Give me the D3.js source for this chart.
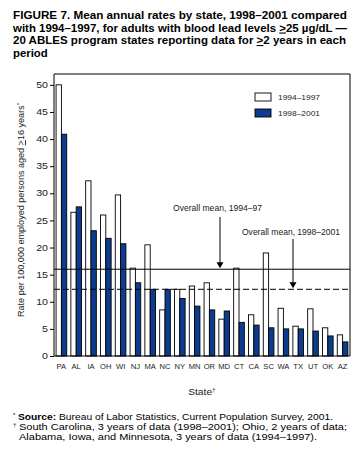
<!DOCTYPE html>
<html>
<head>
<meta charset="utf-8">
<script src="https://cdn.jsdelivr.net/npm/d3@7"></script>
<style>
body { margin: 0; background: #fff; }
text { font-family: "Liberation Sans", Arial, Helvetica, sans-serif; }
</style>
</head>
<body>
<script>
// data
var states = ["PA","AL","IA","OH","WI","NJ","MA","NC","NY","MN","OR","MD","CT","CA","SC","WA","TX","UT","OK","AZ"];
var rates9497 = [50.0,26.5,32.3,26.0,29.7,16.2,20.5,8.5,12.3,12.9,13.5,6.8,16.2,7.6,19.0,8.8,5.5,8.7,5.2,3.9];
var rates9801 = [40.9,27.5,23.1,21.7,20.7,13.5,12.3,12.3,10.6,9.2,8.5,8.3,6.2,5.7,5.2,5.0,5.0,4.6,3.7,2.6];
var periods = ["1994–1997","1998–2001"];
var yTicks = [0,5,10,15,20,25,30,35,40,45,50];
var mean9497 = 16.0;
var mean9801 = 12.3;

var W = 359, H = 455;
var blue = "#0c3c8f";
var svg = d3.select("body").append("svg").attr("width", W).attr("height", H);

// le texte de l'original est plus large qu'Arial : on etire
function etire(sel, k) {
    sel.each(function() {
        var w = this.getComputedTextLength();
        d3.select(this).attr("textLength", w * k).attr("lengthAdjust", "spacingAndGlyphs");
    });
    return sel;
}
function largeur(sel, w) {
    var k = w / sel.node().getComputedTextLength();
    sel.attr("textLength", w).attr("lengthAdjust", "spacingAndGlyphs");
    return k;
}

// titre
function ligneTitre(yy) {
    return svg.append("text").attr("x", 13).attr("y", yy).attr("font-size", 10.8).attr("font-weight", "bold").attr("fill", "#000");
}
var t1 = ligneTitre(19).text("FIGURE 7. Mean annual rates by state, 1998–2001 compared");
largeur(t1, 334);
var t2 = ligneTitre(31.5);
t2.append("tspan").text("with 1994–1997, for adults with blood lead levels ");
t2.append("tspan").attr("text-decoration", "underline").text(">");
t2.append("tspan").text("25 µg/dL —");
largeur(t2, 334);
var t3 = ligneTitre(44);
t3.append("tspan").text("20 ABLES program states reporting data for ");
t3.append("tspan").attr("text-decoration", "underline").text(">");
t3.append("tspan").text("2 years in each");
largeur(t3, 333);
var t4 = ligneTitre(56.5).text("period");
etire(t4, 1.05);

// echelles
var x0 = 54, x1 = 350, yTop = 74, yBase = 356;
var x = d3.scaleBand().domain(states).range([x0, x1]).paddingInner(0.28).paddingOuter(0.14);
var xs = d3.scaleBand().domain([0, 1]).range([0, x.bandwidth()]);
var y = d3.scaleLinear().domain([0, 52]).range([yBase, yTop]);

// cadre
svg.append("path").attr("d", "M" + x0 + "," + yTop + "H" + x1 + "V" + yBase)
    .attr("fill", "none").attr("stroke", "#000").attr("stroke-width", 1);

// barres
var g = svg.append("g");
g.selectAll("rect.a").data(states).enter().append("rect")
    .attr("x", function(d) { return x(d) + xs(0); })
    .attr("y", function(d, i) { return y(rates9497[i]); })
    .attr("width", xs.bandwidth())
    .attr("height", function(d, i) { return yBase - y(rates9497[i]); })
    .attr("fill", "#fff").attr("stroke", "#000").attr("stroke-width", 0.9);
g.selectAll("rect.b").data(states).enter().append("rect")
    .attr("x", function(d) { return x(d) + xs(1); })
    .attr("y", function(d, i) { return y(rates9801[i]); })
    .attr("width", xs.bandwidth())
    .attr("height", function(d, i) { return yBase - y(rates9801[i]); })
    .attr("fill", blue).attr("stroke", "#000").attr("stroke-width", 0.9);

// moyennes
svg.append("line").attr("x1", x0).attr("x2", x1).attr("y1", y(mean9497)).attr("y2", y(mean9497))
    .attr("stroke", "#000").attr("stroke-width", 1);
svg.append("line").attr("x1", x0).attr("x2", x1).attr("y1", y(mean9801)).attr("y2", y(mean9801))
    .attr("stroke", "#000").attr("stroke-width", 1).attr("stroke-dasharray", "6,3");

// axe y
var yAxis = d3.axisLeft(y).tickValues(yTicks).tickSize(4).tickPadding(2);
var ga = svg.append("g").attr("transform", "translate(" + x0 + ",0)").call(yAxis);
ga.select(".domain").attr("d", "M0," + yTop + "V" + yBase).attr("stroke", "#000");
ga.selectAll(".tick line").attr("stroke", "#000");
ga.selectAll(".tick text").attr("font-size", 8.2).attr("fill", "#222").attr("font-family", null);
etire(ga.selectAll(".tick text"), 1.3);

// axe x
var gx = svg.append("g").attr("transform", "translate(0," + yBase + ")").call(d3.axisBottom(x).tickSize(0).tickPadding(8));
gx.select(".domain").attr("d", "M" + x0 + ",0H" + x1).attr("stroke", "#000");
gx.selectAll(".tick text").attr("font-size", 7.6).attr("fill", "#222").attr("font-family", null);

// titres d'axes
var yl = svg.append("text").attr("transform", "translate(24,210) rotate(-90)").attr("text-anchor", "middle")
    .attr("font-size", 9).attr("fill", "#222");
yl.append("tspan").text("Rate per 100,000 employed persons aged ");
yl.append("tspan").attr("text-decoration", "underline").text(">");
yl.append("tspan").text("16 years");
yl.append("tspan").attr("font-size", 6).attr("dy", -3).text("*");
largeur(yl, 214);

var xl = svg.append("text").attr("x", 202).attr("y", 395).attr("text-anchor", "middle").attr("font-size", 9.3).attr("fill", "#222");
xl.append("tspan").text("State");
xl.append("tspan").attr("font-size", 6).attr("dy", -3.5).text("†");
etire(xl, 1.1);

// legende
var leg = svg.append("g");
leg.selectAll("rect").data(periods).enter().append("rect")
    .attr("x", 255).attr("y", function(d, i) { return 93 + i * 16; })
    .attr("width", 16).attr("height", 8)
    .attr("fill", function(d, i) { return i == 0 ? "#fff" : blue; })
    .attr("stroke", "#000").attr("stroke-width", 0.9);
var lt = leg.selectAll("text").data(periods).enter().append("text")
    .attr("x", 278).attr("y", function(d, i) { return 100 + i * 16; })
    .attr("font-size", 8).attr("fill", "#222").text(function(d) { return d; });
lt.attr("textLength", 42).attr("lengthAdjust", "spacingAndGlyphs");

// annotations avec fleches
function fleche(tx, ty, label, w, ax, ay0, ay1) {
    var t = svg.append("text").attr("x", tx).attr("y", ty).attr("font-size", 8.2).attr("fill", "#222").text(label);
    largeur(t, w);
    svg.append("line").attr("x1", ax).attr("x2", ax).attr("y1", ay0).attr("y2", ay1 - 6)
        .attr("stroke", "#000").attr("stroke-width", 1);
    svg.append("path").attr("d", "M" + (ax - 3.5) + "," + (ay1 - 7) + "H" + (ax + 3.5) + "L" + ax + "," + (ay1 - 1) + "Z")
        .attr("fill", "#000");
}
fleche(173, 211, "Overall mean, 1994–97", 89, 220, 217, y(mean9497));
fleche(242, 235, "Overall mean, 1998–2001", 98, 293, 239, y(mean9801));

// notes
svg.append("text").attr("x", 13).attr("y", 417).attr("font-size", 6).attr("fill", "#000").text("*");
var n1 = svg.append("text").attr("x", 18).attr("y", 420).attr("font-size", 8.6).attr("fill", "#000");
n1.append("tspan").attr("font-weight", "bold").text("Source:");
n1.append("tspan").text(" Bureau of Labor Statistics, Current Population Survey, 2001.");
largeur(n1, 315);
svg.append("text").attr("x", 13).attr("y", 427).attr("font-size", 6).attr("fill", "#000").text("†");
var n2 = svg.append("text").attr("x", 19).attr("y", 430).attr("font-size", 8.6).attr("fill", "#000")
    .text("South Carolina, 3 years of data (1998–2001); Ohio, 2 years of data;");
var kn = largeur(n2, 328);
var n3 = svg.append("text").attr("x", 19).attr("y", 440).attr("font-size", 8.6).attr("fill", "#000")
    .text("Alabama, Iowa, and Minnesota, 3 years of data (1994–1997).");
etire(n3, kn);
</script>
</body>
</html>
